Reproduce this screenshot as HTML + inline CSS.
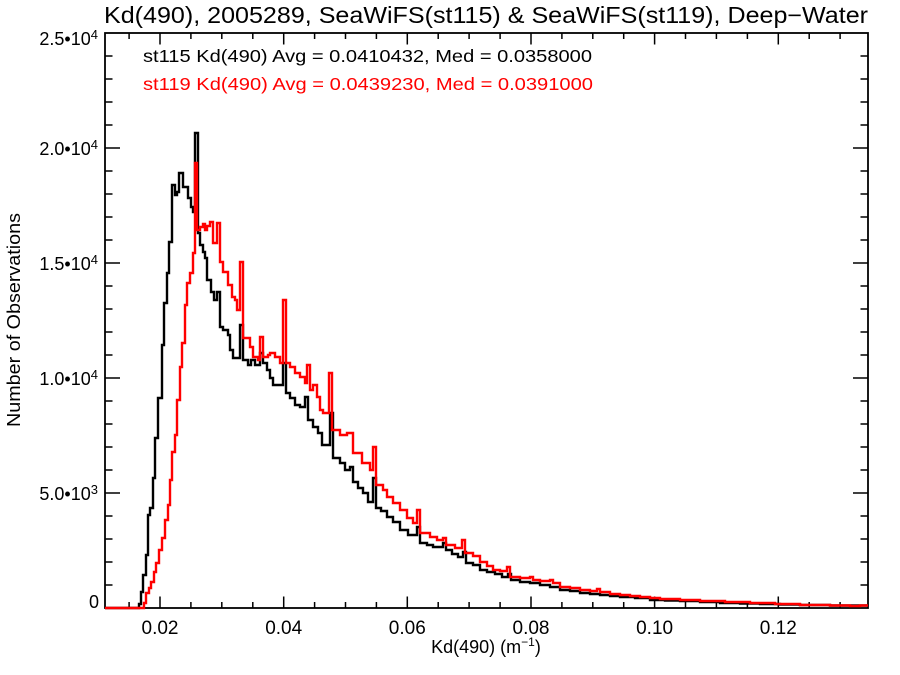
<!DOCTYPE html>
<html>
<head>
<meta charset="utf-8">
<style>
html,body{margin:0;padding:0;background:#fff;}
svg{display:block;}
text{font-family:"Liberation Sans",Arial,sans-serif;}
</style>
</head>
<body>
<svg width="900" height="675" viewBox="0 0 900 675" xmlns="http://www.w3.org/2000/svg">
<rect x="0" y="0" width="900" height="675" fill="#fff"/>

<!-- Title -->
<text x="104" y="23" font-size="23" fill="#000" textLength="764" lengthAdjust="spacingAndGlyphs">Kd(490), 2005289, SeaWiFS(st115) &amp; SeaWiFS(st119), Deep−Water</text>

<!-- Axes box -->
<rect x="105" y="33" width="763" height="575" fill="none" stroke="#000" stroke-width="1.8"/>

<!-- Ticks -->
<g stroke="#000" stroke-width="1.5">
<path d="M160,608V596.5 M283.7,608V596.5 M407.3,608V596.5 M531,608V596.5 M654.6,608V596.5 M778.3,608V596.5"/>
<path d="M160,33V44.5 M283.7,33V44.5 M407.3,33V44.5 M531,33V44.5 M654.6,33V44.5 M778.3,33V44.5"/>
<path d="M129.1,608V602 M190.9,608V602 M221.8,608V602 M252.8,608V602 M314.6,608V602 M345.5,608V602 M376.4,608V602 M438.2,608V602 M469.1,608V602 M500.1,608V602 M561.9,608V602 M592.8,608V602 M623.7,608V602 M685.5,608V602 M716.4,608V602 M747.4,608V602 M809.2,608V602 M840.1,608V602"/>
<path d="M129.1,33V39 M190.9,33V39 M221.8,33V39 M252.8,33V39 M314.6,33V39 M345.5,33V39 M376.4,33V39 M438.2,33V39 M469.1,33V39 M500.1,33V39 M561.9,33V39 M592.8,33V39 M623.7,33V39 M685.5,33V39 M716.4,33V39 M747.4,33V39 M809.2,33V39 M840.1,33V39"/>
<path d="M105,493H120 M105,378H120 M105,263H120 M105,148H120"/>
<path d="M868,493H853 M868,378H853 M868,263H853 M868,148H853"/>
<path d="M105,585H112.5 M105,562H112.5 M105,539H112.5 M105,516H112.5 M105,470H112.5 M105,447H112.5 M105,424H112.5 M105,401H112.5 M105,355H112.5 M105,332H112.5 M105,309H112.5 M105,286H112.5 M105,240H112.5 M105,217H112.5 M105,194H112.5 M105,171H112.5 M105,125H112.5 M105,102H112.5 M105,79H112.5 M105,56H112.5"/>
<path d="M868,585H860.5 M868,562H860.5 M868,539H860.5 M868,516H860.5 M868,470H860.5 M868,447H860.5 M868,424H860.5 M868,401H860.5 M868,355H860.5 M868,332H860.5 M868,309H860.5 M868,286H860.5 M868,240H860.5 M868,217H860.5 M868,194H860.5 M868,171H860.5 M868,125H860.5 M868,102H860.5 M868,79H860.5 M868,56H860.5"/>
</g>

<!-- X tick labels -->
<g font-size="19" fill="#000" text-anchor="middle">
<text x="160" y="634">0.02</text>
<text x="283.7" y="634">0.04</text>
<text x="407.3" y="634">0.06</text>
<text x="531" y="634">0.08</text>
<text x="654.6" y="634">0.10</text>
<text x="778.3" y="634">0.12</text>
</g>

<!-- Y tick labels -->
<g font-size="18" fill="#000" text-anchor="end">
<text x="98" y="45">2.5•10<tspan font-size="13" dy="-6">4</tspan></text>
<text x="98" y="155">2.0•10<tspan font-size="13" dy="-6">4</tspan></text>
<text x="98" y="270">1.5•10<tspan font-size="13" dy="-6">4</tspan></text>
<text x="98" y="385">1.0•10<tspan font-size="13" dy="-6">4</tspan></text>
<text x="98" y="500">5.0•10<tspan font-size="13" dy="-6">3</tspan></text>
<text x="99" y="608">0</text>
</g>

<!-- Axis titles -->
<text x="486" y="653" font-size="18" fill="#000" text-anchor="middle">Kd(490) (m<tspan font-size="12" dy="-7">−1</tspan><tspan dy="7">)</tspan></text>
<text transform="translate(20,320) rotate(-90)" x="0" y="0" font-size="18" fill="#000" text-anchor="middle" textLength="214" lengthAdjust="spacingAndGlyphs">Number of Observations</text>

<!-- Legend text -->
<text x="143" y="62" font-size="17.5" fill="#000" textLength="449" lengthAdjust="spacingAndGlyphs">st115 Kd(490) Avg = 0.0410432, Med = 0.0358000</text>
<text x="143" y="90" font-size="17.5" fill="#ff0000" textLength="450" lengthAdjust="spacingAndGlyphs">st119 Kd(490) Avg = 0.0439230, Med = 0.0391000</text>

<!-- Black histogram (st115) -->
<path fill="none" stroke="#000" stroke-width="2.4" stroke-linejoin="miter" d="M105,608 H139 V604 H141 V592 H143 V575 H146 V555 H148 V515 H150 V508 H153 V478 H155 V438 H158 V398 H162 V345 H164 V303 H167 V273 H169 V242 H172 V185 H175 V195 H177 V192 H179 V173 H183 V187 H188 V198 H191 V207 H193 V212 H195 V133 H198 V233 H200 V245 H203 V252 H205 V258 H207 V280 H211 V292 H214 V300 H217 V292 H220 V327 H223 V330 H228 V335 H230 V350 H233 V358 H240 V325 H243 V360 H248 V365 H251 V360 H255 V365 H260 V353 H263 V363 H267 V370 H270 V378 H273 V385 H283 V363 H286 V393 H290 V398 H295 V405 H300 V407 H305 V397 H308 V420 H313 V427 H318 V433 H322 V445 H330 V413 H333 V458 H340 V463 H345 V470 H350 V467 H353 V482 H358 V488 H363 V493 H368 V502 H373 V478 H376 V508 H381 V511 H387 V517 H393 V522 H400 V530 H408 V535 H417 V527 H420 V543 H427 V545 H433 V547 H443 V543 H446 V550 H452 V554 H458 V557 H463 V552 H466 V563 H473 V565 H480 V570 H487 V572 H495 V574 H502 V577 H508 V574 H511 V580 H520 V582 H530 V583 H540 V585 H550 V587 H560 V590 H570 V591 H580 V593 H590 V594 H600 V595 H610 V596 H620 V597 H635 V598 H650 V600 H665 V600.5 H680 V601 H700 V602 H720 V603 H740 V603.5 H760 V604 H780 V604.5 H800 V605 H830 V605.5 H868"/>

<!-- Red histogram (st119) -->
<path fill="none" stroke="#ff0000" stroke-width="2.4" stroke-linejoin="miter" d="M105,608 H144 V603 H146 V593 H149 V588 H151 V582 H154 V572 H156 V563 H159 V550 H162 V538 H165 V520 H168 V505 H170 V480 H172 V452 H175 V435 H177 V400 H180 V367 H182 V343 H185 V305 H187 V283 H190 V273 H193 V253 H195 V163 H197 V230 H200 V227 H203 V224 H205 V230 H207 V226 H210 V222 H213 V243 H217 V223 H220 V262 H223 V272 H228 V285 H232 V297 H235 V300 H237 V310 H240 V262 H243 V338 H250 V347 H253 V357 H258 V360 H260 V337 H263 V357 H268 V355 H270 V353 H275 V357 H280 V363 H283 V300 H286 V363 H290 V367 H295 V373 H300 V377 H305 V383 H307 V365 H310 V390 H313 V385 H317 V397 H320 V410 H323 V413 H329 V373 H332 V430 H340 V435 H347 V433 H353 V453 H362 V463 H370 V470 H373 V447 H376 V485 H383 V490 H387 V497 H393 V503 H400 V510 H407 V518 H413 V523 H417 V510 H420 V533 H430 V537 H437 V540 H443 V538 H446 V545 H455 V548 H462 V540 H465 V553 H473 V556 H480 V562 H487 V566 H493 V570 H500 V571 H507 V567 H510 V577 H520 V578 H530 V577 H533 V580 H540 V581 H550 V580 H553 V583 H560 V587 H570 V588 H580 V590 H590 V591 H597 V589 H600 V592 H610 V594 H620 V595 H630 V596 H640 V597 H650 V598 H660 V599 H680 V600 H700 V601 H725 V602 H750 V603 H775 V604 H800 V605 H830 V605.5 H850 V606 H860 V605.5 H868"/>
</svg>
</body>
</html>
